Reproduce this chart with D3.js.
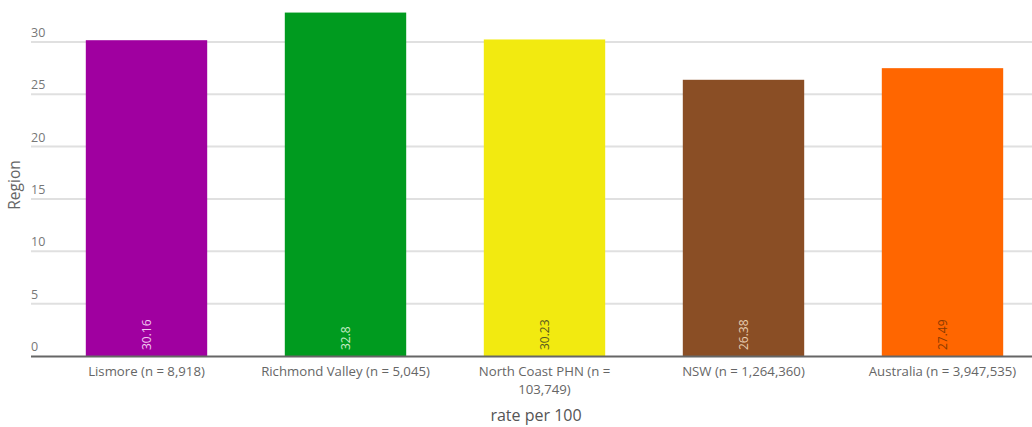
<!DOCTYPE html>
<html>
<head>
<meta charset="utf-8">
<script src="https://cdn.jsdelivr.net/npm/d3@7/dist/d3.min.js"></script>
<style>
  html, body { margin: 0; padding: 0; background: #fff; }
  svg { display: block; font-family: "Open Sans", "Noto Sans", sans-serif; }
</style>
</head>
<body>
<svg id="chart" width="1032" height="427"></svg>
<script>
// Regions and their rate per 100
const categories = [
  "Lismore (n = 8,918)",
  "Richmond Valley (n = 5,045)",
  "North Coast PHN (n = 103,749)",
  "NSW (n = 1,264,360)",
  "Australia (n = 3,947,535)"
];
const categoryLines = [
  ["Lismore (n = 8,918)"],
  ["Richmond Valley (n = 5,045)"],
  ["North Coast PHN (n =", "103,749)"],
  ["NSW (n = 1,264,360)"],
  ["Australia (n = 3,947,535)"]
];
const values = [30.16, 32.8, 30.23, 26.38, 27.49];
const valueLabels = ["30.16", "32.8", "30.23", "26.38", "27.49"];
const barColors = ["#a000a0", "#009b1f", "#f2ea10", "#8a4e25", "#ff6600"];
const labelColors = ["#f0c8f0", "#c8ecc8", "#5a5a20", "#e8cdb0", "#8a3a00"];
const yTicks = [0, 5, 10, 15, 20, 25, 30];

const svg = d3.select("#chart");
const gridLeft = 31, gridRight = 1032;
const y0 = 356;

const x = d3.scaleBand()
  .domain(categories)
  .range([47, 1042])
  .paddingInner(0.39)
  .paddingOuter(0.195);

const y = d3.scaleLinear().domain([0, 34]).range([y0, 0]);

// horizontal gridlines
svg.append("g").selectAll("line")
  .data(yTicks.filter(d => d > 0))
  .join("line")
  .attr("x1", gridLeft).attr("x2", gridRight)
  .attr("y1", d => y(d)).attr("y2", d => y(d))
  .attr("stroke", "#e0e0e0").attr("stroke-width", 2);

// y tick labels sit above their gridline
svg.append("g").selectAll("text")
  .data(yTicks)
  .join("text")
  .attr("x", gridLeft)
  .attr("y", d => y(d) - 5)
  .attr("font-size", 12.5)
  .attr("fill", "#777")
  .text(d => d);

// bars
svg.append("g").selectAll("rect")
  .data(values)
  .join("rect")
  .attr("x", (d, i) => x(categories[i]))
  .attr("width", x.bandwidth())
  .attr("y", d => y(d))
  .attr("height", d => y0 - y(d))
  .attr("fill", (d, i) => barColors[i]);

// value labels inside bar base, rotated
svg.append("g").selectAll("text")
  .data(values)
  .join("text")
  .attr("transform", (d, i) => `translate(${x(categories[i]) + x.bandwidth() / 2},${y0 - 6}) rotate(-90)`)
  .attr("dy", "0.35em")
  .attr("font-size", 12)
  .attr("fill", (d, i) => labelColors[i])
  .text((d, i) => valueLabels[i]);

// zero baseline
svg.append("line")
  .attr("x1", gridLeft).attr("x2", gridRight)
  .attr("y1", y0 + 0.5).attr("y2", y0 + 0.5)
  .attr("stroke", "#666").attr("stroke-width", 2);

// category labels
const xl = svg.append("g").selectAll("text")
  .data(categories)
  .join("text")
  .attr("text-anchor", "middle")
  .attr("font-size", 13.2)
  .attr("fill", "#666")
  .attr("x", d => x(d) + x.bandwidth() / 2)
  .attr("y", 376);
xl.each(function(d, i) {
  const t = d3.select(this);
  categoryLines[i].forEach((line, k) => {
    t.append("tspan")
      .attr("x", x(d) + x.bandwidth() / 2)
      .attr("dy", k === 0 ? 0 : 18)
      .text(line);
  });
});

// axis titles
svg.append("text")
  .attr("x", 536).attr("y", 421)
  .attr("text-anchor", "middle")
  .attr("font-size", 16)
  .attr("fill", "#555")
  .text("rate per 100");

svg.append("text")
  .attr("transform", "translate(20,185) rotate(-90)")
  .attr("text-anchor", "middle")
  .attr("font-size", 15.5)
  .attr("fill", "#666")
  .text("Region");
</script>
</body>
</html>
